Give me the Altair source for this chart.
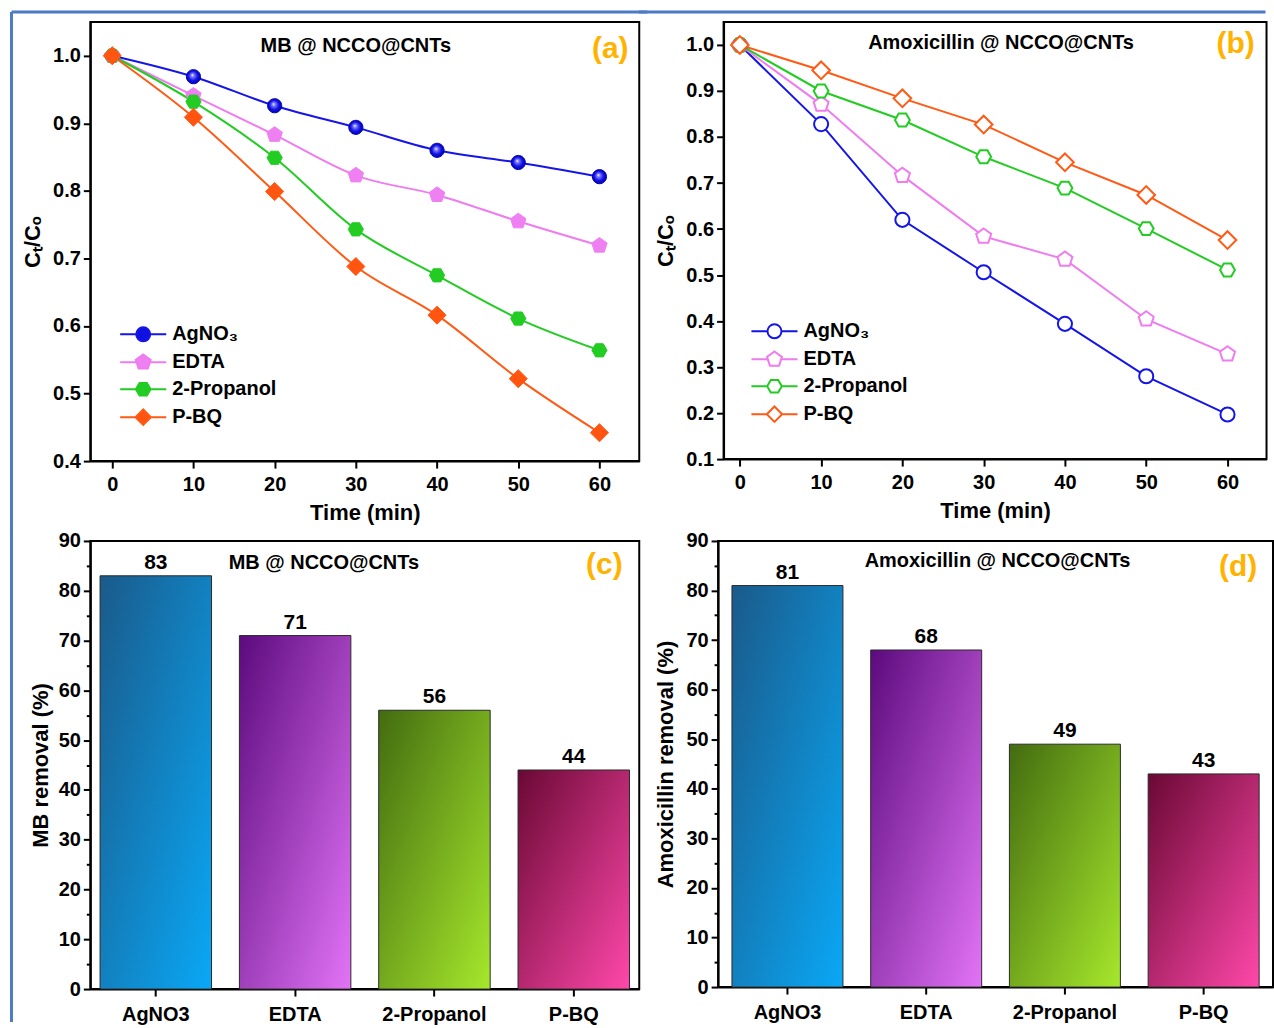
import altair as alt
import pandas as pd

FONT = "Liberation Sans"

# ---------------- data ----------------
time_min = [0, 10, 20, 30, 40, 50, 60]
reagents = ["AgNO\u2083", "EDTA", "2-Propanol", "P-BQ"]

# (a) MB @ NCCO@CNTs  Ct/Co
mb_agno3 = [1.0, 0.969, 0.926, 0.894, 0.860, 0.842, 0.821]
mb_edta = [1.0, 0.941, 0.883, 0.823, 0.794, 0.755, 0.719]
mb_prop = [1.0, 0.932, 0.849, 0.743, 0.675, 0.611, 0.564]
mb_pbq = [1.0, 0.909, 0.799, 0.688, 0.616, 0.522, 0.442]

# (b) Amoxicillin @ NCCO@CNTs  Ct/Co
amx_agno3 = [1.0, 0.828, 0.620, 0.506, 0.394, 0.280, 0.197]
amx_edta = [1.0, 0.871, 0.716, 0.584, 0.534, 0.404, 0.328]
amx_prop = [1.0, 0.900, 0.837, 0.757, 0.689, 0.601, 0.511]
amx_pbq = [1.0, 0.945, 0.884, 0.827, 0.745, 0.674, 0.576]

# (c), (d) removal %
bar_categories = ["AgNO3", "EDTA", "2-Propanol", "P-BQ"]
mb_removal = [83, 71, 56, 44]
amx_removal = [81, 68, 49, 43]

panel_titles = ["MB @ NCCO@CNTs", "Amoxicillin @ NCCO@CNTs",
                "MB @ NCCO@CNTs", "Amoxicillin @ NCCO@CNTs"]
panel_tags = ["(a)", "(b)", "(c)", "(d)"]

a_ticks = [0.4, 0.5, 0.6, 0.7, 0.8, 0.9, 1.0]
b_ticks = [0.1, 0.2, 0.3, 0.4, 0.5, 0.6, 0.7, 0.8, 0.9, 1.0]
bar_ticks = [0, 5, 10, 15, 20, 25, 30, 35, 40, 45, 50, 55, 60, 65, 70, 75, 80, 85, 90]

# ---------------- styles ----------------
line_colors = ["#1515e8", "#ee7cf0", "#22cc22", "#ff5a14"]
fill_colors_a = ["#1010e0", "#ee80f2", "#22cc22", "#ff5510"]
FRAME_BLUE = "#4a7bc4"

CIRCLE = "M-1,0A1,1 0 1,1 1,0A1,1 0 1,1 -1,0Z"
PENTA = "M0,-1.12L1.065,-0.346L0.658,0.906L-0.658,0.906L-1.065,-0.346Z"
HEXA = "M-1.05,0L-0.525,-0.91L0.525,-0.91L1.05,0L0.525,0.91L-0.525,0.91Z"
DIAM = "M0,-1.25L1.25,0L0,1.25L-1.25,0Z"
DIAM_L = "M0,-1.1L1.1,0L0,1.1L-1.1,0Z"
marker_paths = [CIRCLE, PENTA, HEXA, DIAM]
LINE_SEG = "M-3.3,0L-1.05,0M1.05,0L3.3,0"
legend_paths = [LINE_SEG + p for p in [CIRCLE, PENTA, HEXA, DIAM_L]]

glossy_blue = alt.RadialGradient(
    gradient="radial", x1=0.42, y1=0.38, r1=0, x2=0.5, y2=0.5, r2=0.55,
    stops=[alt.GradientStop(offset=0, color="#ffffff"),
           alt.GradientStop(offset=0.22, color="#7a7aff"),
           alt.GradientStop(offset=0.6, color="#1212e6"),
           alt.GradientStop(offset=1, color="#0000a8")])

bar_grad_stops = [
    ["#1a5a8a", "#0aa8f6"],
    ["#5c0a7e", "#e274f6"],
    ["#436c10", "#a6e82c"],
    ["#6a0834", "#ff48aa"],
]

one_row = pd.DataFrame({"k": [0]})


def frame_rule(x=None, x2=None, y=None, y2=None):
    enc = {}
    if x is not None:
        enc["x"] = alt.value(x)
    if x2 is not None:
        enc["x2"] = alt.value(x2)
    if y is not None:
        enc["y"] = alt.value(y)
    if y2 is not None:
        enc["y2"] = alt.value(y2)
    return alt.Chart(one_row).mark_rule(color=FRAME_BLUE, strokeWidth=3, strokeCap="butt").encode(**enc)


def long_df(series):
    rows = []
    for name, vals in zip(reagents, series):
        for t, v in zip(time_min, vals):
            rows.append({"time": t, "ratio": v, "reagent": name})
    return pd.DataFrame(rows)


def text_layer(txt, x, y, size, color):
    return alt.Chart(pd.DataFrame({"t": [txt]})).mark_text(
        font=FONT, fontWeight="bold", fontSize=size, color=color,
        align="center", baseline="middle"
    ).encode(text="t:N", x=alt.value(x), y=alt.value(y))


def make_legend(x, y, hollow):
    kw = dict(title=None, orient="none", legendX=x, legendY=y,
              labelFont=FONT, labelFontSize=20, labelFontWeight="bold", labelColor="black",
              symbolSize=196, symbolStrokeWidth=2, symbolOpacity=1, rowPadding=5, labelOffset=19)
    if hollow:
        kw["symbolFillColor"] = "white"
    return alt.Legend(**kw)


def line_panel(series, xdom, ydom, yvals, filled, interp, idx, W, H, title_xy, tag_xy, leg_xy, ytp, frame):
    df = long_df(series)
    xs = alt.Scale(domain=xdom, nice=False, zero=False)
    ys = alt.Scale(domain=ydom, nice=False, zero=False)
    base = alt.Chart(df).encode(
        x=alt.X("time:Q", scale=xs,
                axis=alt.Axis(values=time_min, format="d", title="Time (min)",
                              titlePadding=9, labelPadding=6)),
        y=alt.Y("ratio:Q", scale=ys,
                axis=alt.Axis(values=yvals, format=".1f", title="C\u209c/C\u2092", titlePadding=ytp)),
    )
    cscale = alt.Scale(domain=reagents, range=line_colors)
    lines = base.mark_line(strokeWidth=2, interpolate=interp).encode(
        color=alt.Color("reagent:N", scale=cscale, legend=None))
    if filled:
        gloss = base.transform_filter(alt.datum.reagent == reagents[0]).mark_point(
            filled=True, size=200, opacity=1, shape=CIRCLE, fill=glossy_blue,
            stroke="#0000b0", strokeWidth=1)
        others = base.transform_filter(alt.datum.reagent != reagents[0]).mark_point(
            filled=True, size=210, strokeWidth=1, opacity=1).encode(
            shape=alt.Shape("reagent:N", scale=alt.Scale(domain=reagents, range=marker_paths), legend=None),
            fill=alt.Fill("reagent:N", scale=alt.Scale(domain=reagents, range=fill_colors_a), legend=None),
            stroke=alt.Stroke("reagent:N", scale=alt.Scale(domain=reagents, range=fill_colors_a), legend=None),
        )
        pts = alt.layer(gloss, others)
    else:
        pts = base.mark_point(filled=False, fill="white", size=200, strokeWidth=2, opacity=1).encode(
            shape=alt.Shape("reagent:N", scale=alt.Scale(domain=reagents, range=marker_paths), legend=None),
            stroke=alt.Stroke("reagent:N", scale=alt.Scale(domain=reagents, range=line_colors), legend=None),
        )
    lg_base = alt.Chart(df).transform_filter("datum.time < -100").transform_calculate(lg="datum.reagent")
    if filled:
        leg = make_legend(leg_xy[0], leg_xy[1], False)
        leg_layer = lg_base.mark_point(filled=True, strokeWidth=2, opacity=1).encode(
            shape=alt.Shape("lg:N", scale=alt.Scale(domain=reagents, range=legend_paths), legend=leg),
            fill=alt.Fill("lg:N", scale=alt.Scale(domain=reagents, range=fill_colors_a), legend=leg),
            stroke=alt.Stroke("lg:N", scale=alt.Scale(domain=reagents, range=line_colors), legend=leg),
        )
    else:
        leg = make_legend(leg_xy[0], leg_xy[1], True)
        leg_layer = lg_base.mark_point(filled=False, fill="white", strokeWidth=2, opacity=1).encode(
            shape=alt.Shape("lg:N", scale=alt.Scale(domain=reagents, range=legend_paths), legend=leg),
            stroke=alt.Stroke("lg:N", scale=alt.Scale(domain=reagents, range=line_colors), legend=leg),
        )
    t1 = text_layer(panel_titles[idx], title_xy[0], title_xy[1], 20, "black")
    t2 = text_layer(panel_tags[idx], tag_xy[0], tag_xy[1], 30, "#ffb300")
    return alt.layer(*frame, lines, pts, leg_layer, t1, t2).resolve_scale(
        shape="independent", fill="independent", stroke="independent"
    ).properties(width=W, height=H)


def bar_panel(values, title_txt, idx, W, H, pad_outer, title_xy, tag_xy, ytitle, ytp, frame):
    df = pd.DataFrame({"cat": bar_categories, "val": values})
    xs = alt.Scale(domain=bar_categories, paddingInner=0.2, paddingOuter=pad_outer)
    ys = alt.Scale(domain=[0, 90], nice=False)
    base = alt.Chart(df).encode(
        x=alt.X("cat:N", scale=xs, sort=bar_categories,
                axis=alt.Axis(title=None, labelAngle=0, labelPadding=8)),
        y=alt.Y("val:Q", scale=ys,
                axis=alt.Axis(values=bar_ticks, title=ytitle, titlePadding=ytp,
                              labelExpr="datum.value % 10 === 0 ? datum.label : ''",
                              tickSize={"condition": {"test": "datum.value % 10 === 0", "value": 7}, "value": 4})),
    )
    layers = []
    for cat, stops in zip(bar_categories, bar_grad_stops):
        grad = alt.LinearGradient(
            gradient="linear", x1=0, y1=0, x2=1, y2=1,
            stops=[alt.GradientStop(offset=0, color=stops[0]),
                   alt.GradientStop(offset=1, color=stops[1])])
        layers.append(base.transform_filter(alt.datum.cat == cat).mark_bar(
            color=grad, stroke="#2a2a2a", strokeWidth=1))
    labels = base.mark_text(font=FONT, fontWeight="bold", fontSize=21, dy=-13,
                            color="black").encode(text="val:Q")
    t1 = text_layer(title_txt, title_xy[0], title_xy[1], 20, "black")
    t2 = text_layer(panel_tags[idx], tag_xy[0], tag_xy[1], 30, "#ffb300")
    return alt.layer(*frame, *layers, labels, t1, t2).properties(width=W, height=H)


# outer blue frame pieces (pixel offsets relative to each panel's plot area)
frame_a = [frame_rule(x=-79, y=-10, y2=509), frame_rule(x=-79, x2=558, y=-10)]
frame_b = [frame_rule(x=-85, x2=543, y=-10)]
frame_c = [frame_rule(x=-79, y=-12, y2=482)]

pa = line_panel([mb_agno3, mb_edta, mb_prop, mb_pbq], [-2.7, 64.9], [0.4, 1.05], a_ticks, True,
                "monotone", 0, 550, 440, (266, 24), (521, 27), (43, 303), 8, frame_a)
pb = line_panel([amx_agno3, amx_edta, amx_prop, amx_pbq], [-2.0, 64.8], [0.1, 1.05], b_ticks, False,
                "linear", 1, 544, 438, (278, 21), (513, 22), (41, 300), 8, frame_b)
pc = bar_panel(mb_removal, panel_titles[2], 2, 550, 449, 0.07, (234, 22), (515, 24),
               "MB removal (%)", 6, frame_c)
pd_ = bar_panel(amx_removal, panel_titles[3], 3, 556, 447, 0.1, (280, 20), (521, 26),
                "Amoxicillin removal (%)", 8, [])

chart = alt.vconcat(
    alt.hconcat(pa, pb, spacing=-14.5),
    alt.hconcat(pc, pd_, spacing=13),
    spacing=-7,
).properties(
    padding={"left": 8.5, "top": 8, "right": 0, "bottom": 0},
    background="white",
).configure_view(
    stroke="black", strokeWidth=2
).configure_axis(
    labelFont=FONT, labelFontSize=20, labelFontWeight="bold", labelColor="black",
    titleFont=FONT, titleFontSize=22, titleFontWeight="bold", titleColor="black",
    domainColor="black", domainWidth=2, tickColor="black", tickWidth=2, tickSize=7,
    grid=False, labelPadding=3,
)

chart.save("out.html", embed_options={"renderer": "svg", "actions": False})
